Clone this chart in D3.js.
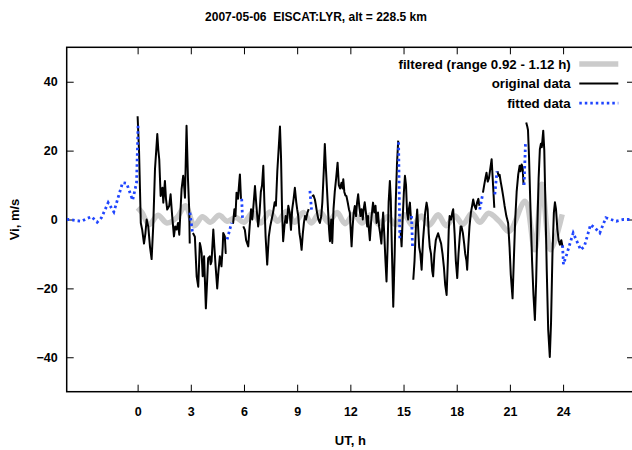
<!DOCTYPE html>
<html>
<head>
<meta charset="utf-8">
<script src="https://cdn.jsdelivr.net/npm/d3@7"></script>
<style>
body {margin:0; background:#fff}
text {font-family:"Liberation Sans", Arial, sans-serif; font-weight:bold; font-size:12px; fill:#000}
</style>
</head>
<body>
<svg id="chart"></svg>
<script>
// hours UT, velocity m/s ; null breaks the line
var original = [
 [0,30],[0.08,20],[0.18,-1],[0.26,-3],[0.36,-7],[0.44,-4],[0.51,0],[0.6,-2],[0.7,-8],[0.79,-11.5],
 [0.88,-2],[0.98,14.6],[1.05,20],[1.11,24.8],[1.17,20],[1.22,17.5],[1.3,6.8],[1.4,9.2],[1.45,4.9],[1.54,11.2],
 [1.6,6],[1.67,2.9],[1.78,3.9],[1.86,7.3],[1.95,1],[2.05,-4.9],[2.12,-2],[2.2,-2.9],[2.28,-1],[2.35,-4.4],
 [2.48,8.8],[2.57,12.7],[2.62,10],[2.67,6.3],[2.76,27.2],[2.84,12],[2.91,2.9],[2.94,-7],[2.95,null],
 [3.12,-3.9],[3.23,-5],[3.33,-16.5],[3.42,-19.5],[3.51,-6.8],[3.56,-8],[3.61,-9.7],[3.67,-16.5],[3.75,-10.7],[3.85,-25.8],
 [3.92,-18],[3.98,-11.2],[4.07,-10.7],[4.12,-13],[4.17,-12.2],[4.27,-2.9],[4.33,-8],[4.4,-13.6],[4.49,-20],[4.56,-15],
 [4.64,-10.7],[4.73,-13.6],[4.8,-8],[4.83,-3.9],[4.92,-4.9],[4.97,-9.7],[5.02,-9.7],[5.05,null],
 [5.34,-1],[5.39,-1],[5.46,3],[5.52,1],[5.58,7.8],[5.66,6],[5.72,10],[5.77,13.1],[5.83,6],[5.85,null],
 [5.96,-2],[6.05,-3],[6.12,-6],[6.24,-7.8],[6.32,-2],[6.4,3],[6.47,0],[6.55,5],[6.62,9.7],[6.7,4],
 [6.8,-2],[6.88,2],[6.95,8],[7.02,10],[7.09,15.6],[7.15,5],[7.22,-5],[7.31,-13.1],[7.4,-5],[7.48,-2],
 [7.56,0],[7.64,2],[7.73,5],[7.8,4],[7.88,14],[7.95,20],[8.03,27],[8.09,18],[8.15,2],[8.21,-6.3],
 [8.28,-2],[8.35,1],[8.42,-1],[8.5,4],[8.58,2],[8.65,-3],[8.72,3],[8.8,6],[8.87,9.2],[8.95,5],
 [9,3],[9.06,1],[9.13,-4],[9.19,-6],[9.25,-8.8],[9.32,-4],[9.38,-1],[9.44,1],[9.5,0],[9.58,2],[9.65,3],[9.7,null],
 [9.84,6.8],[9.92,7],[10,5.8],[10.06,4],[10.12,2],[10.2,0],[10.28,-1],[10.36,1],[10.42,5],[10.5,14],
 [10.56,21.9],[10.62,15],[10.68,9],[10.75,2],[10.8,-3],[10.85,-6.3],[10.92,0],[10.98,-6.8],[11.05,3],[11.12,8],
 [11.2,12],[11.28,16.5],[11.35,10],[11.42,9],[11.5,10.7],[11.56,9],[11.6,11.7],[11.66,8],[11.72,7],[11.78,6.8],
 [11.85,5],[11.92,3],[11.97,2],[12.02,-3],[12.07,-7.8],[12.13,-2],[12.19,2],[12.25,3.9],[12.32,1],[12.38,5],
 [12.44,7.3],[12.5,4],[12.57,1],[12.63,3],[12.7,0],[12.75,3],[12.81,5],[12.88,2],[12.95,-2],[13,1],
 [13.05,-3],[13.1,-6],[13.18,0],[13.24,3],[13.28,4.9],[13.35,2],[13.42,4],[13.48,-1],[13.56,2],[13.62,-2],
 [13.68,-4],[13.75,-7],[13.8,-2],[13.85,2],[13.92,-5],[13.98,-12],[14.04,-18],[14.1,-8],[14.16,5],[14.23,11.2],
 [14.28,6],[14.34,-8],[14.42,-25.3],[14.5,-10],[14.56,5],[14.63,16],[14.7,22.9],[14.72,null],
 [14.83,-3],[14.89,-7.8],[14.95,0],[15.02,8],[15.08,12.7],[15.14,10],[15.2,2],[15.26,0],[15.3,3],[15.36,4.9],[15.42,0],[15.45,null],
 [15.55,-17.5],[15.62,-12],[15.7,-2],[15.77,2.9],[15.82,-2],[15.88,-8],[15.95,-10],[16.02,-14.6],[16.1,-6],[16.16,-2],
 [16.22,2],[16.3,4.9],[16.36,3],[16.42,-4],[16.48,-8],[16.55,-10],[16.62,-15],[16.67,-16.5],[16.74,-10],[16.82,-6],
 [16.88,-5],[16.95,-4],[17.05,-5.8],[17.12,-7],[17.2,-10],[17.28,-14],[17.35,-19],[17.43,-21.9],[17.5,-12],[17.55,-3],
 [17.6,1],[17.68,0],[17.75,2],[17.8,3],[17.88,-4],[17.95,-12],[18.03,-17],[18.1,-10],[18.17,-5],[18.22,-2],
 [18.27,-2],[18.35,-4],[18.42,-7],[18.48,-10],[18.55,-12],[18.59,-14.6],[18.65,-8],[18.72,-2],[18.8,2],[18.87,4],
 [18.93,5.8],[19,4],[19.08,3],[19.15,5],[19.22,6],[19.28,4],[19.3,null],
 [19.48,7.8],[19.55,10],[19.62,12],[19.68,13.6],[19.75,11],[19.82,12],[19.9,15],[19.97,17.5],[20.05,10],[20.12,3.4],[20.15,null],
 [20.3,14],[20.36,12.7],[20.42,13],[20.48,11],[20.55,9],[20.62,6.8],[20.7,4],[20.8,1],[20.9,-1],[20.98,-8],
 [21.05,-16],[21.15,-22.9],[21.22,-12],[21.3,0],[21.38,8],[21.47,13.1],[21.55,15.6],[21.6,14],[21.66,16],[21.72,15],[21.77,10],[21.79,null],
 [21.92,28.2],[21.98,27],[22.02,26],[22.08,18],[22.15,5],[22.25,-12],[22.33,-22],[22.41,-29.2],[22.48,-18],[22.55,-2],
 [22.62,12],[22.69,20.4],[22.75,22],[22.8,21],[22.88,25.8],[22.94,20],[23,5],[23.08,-15],[23.16,-32],[23.25,-39.9],
 [23.32,-30],[23.4,-10],[23.48,2],[23.54,5],[23.6,3],[23.68,-3],[23.75,-6],[23.82,-7.3],[23.9,-6],[23.97,-8]
];

var fitted = [
 [-4,0],[-3.8,0],[-3.5,-0.3],[-3.16,-0.5],[-2.85,0.3],[-2.6,0.8],[-2.28,-0.8],[-2.04,0.5],[-1.66,4.9],[-1.34,2.2],
 [-0.85,10.7],[-0.62,10.5],[-0.28,5.6],[-0.06,10.7],[0.03,28],[0.04,null],
 [2.95,2],[3.1,-4],[3.11,null],
 [5.05,-5.8],[5.3,-1],[5.31,null],
 [5.87,6],[5.92,0],[5.93,null],
 [9.72,8.3],[9.81,2.9],[9.82,null],
 [14.72,22.4],[14.79,-5.8],[14.8,null],
 [15.45,1],[15.51,-8.3],[15.52,null],
 [19.3,2.9],[19.46,7.3],[19.47,null],
 [20.15,7.3],[20.27,14],[20.28,null],
 [21.8,10],[21.88,22.4],[21.89,null],
 [23.97,-7.5],[24.02,-13],[24.2,-10.2],[24.57,-3.9],[24.99,-8.8],[25.2,-7.8],[25.55,-1.5],[25.8,-2.5],[26.07,-3.9],[26.41,0.5],
 [26.7,0],[27,-0.5],[27.4,0],[28,0]
];

var filtered = [
 [0,3.4],[0.25,2],[0.65,-1.5],[1.15,1.2],[1.65,-1],[2.2,0.5],[2.7,4],[3.2,-1.8],[3.65,0.8],[4.1,-0.8],
 [4.6,1.2],[5.05,-0.5],[5.55,0.6],[6,-0.8],[6.5,2],[6.95,-1],[7.45,2.2],[7.9,-0.5],[8.4,2.4],[8.85,-0.8],
 [9.35,2],[9.8,-1],[10.3,2.2],[10.75,-0.8],[11.25,2],[11.7,-1.2],[12.2,1.6],[12.65,-1],[13.15,1.4],[13.6,-1.4],
 [14.1,0.8],[14.55,-1.5],[15.05,1.4],[15.5,-1.8],[16,1],[16.45,-1.6],[16.95,1.4],[17.4,-1.8],[17.9,1],[18.35,-1.4],
 [18.85,1.8],[19.3,-0.8],[19.8,1.8],[20.4,-0.5],[20.95,-3.5],[21.85,5.3],[22.4,-8.8],[22.8,10.2],[23.3,-8.8],[23.95,1.5]
];

var xTicks = [0,3,6,9,12,15,18,21,24];
var yTicks = [-40,-20,0,20,40];
var legendNames = ["filtered (range 0.92 - 1.12 h)", "original data", "fitted data"];

var screen = {width:632, height:450};
var margins = {top:47.3, left:66.7, right:-2, bottom:58.3};
var graph = {
    width: screen.width - margins.left - margins.right,
    height: screen.height - margins.top - margins.bottom
};

var svg = d3.select("#chart")
    .attr("width", screen.width)
    .attr("height", screen.height);

var xScale = d3.scaleLinear().domain([-4,28]).range([0, graph.width]);
var yScale = d3.scaleLinear().domain([-50,50]).range([graph.height, 0]);

svg.append("defs").append("clipPath").attr("id","clip")
    .append("rect").attr("width", graph.width).attr("height", graph.height);

var g = svg.append("g")
    .attr("transform", "translate(" + margins.left + "," + margins.top + ")");

// axes, ticks inward, mirrored
var tickLen = 7;
g.append("g").attr("transform","translate(0," + graph.height + ")")
    .call(d3.axisBottom(xScale).tickValues(xTicks).tickSize(-tickLen).tickPadding(tickLen + 8))
g.append("g")
    .call(d3.axisTop(xScale).tickValues(xTicks).tickSize(-tickLen).tickFormat(""))
g.append("g")
    .call(d3.axisLeft(yScale).tickValues(yTicks).tickSize(-tickLen).tickPadding(tickLen + 2))
g.append("g").attr("transform","translate(" + graph.width + ",0)")
    .call(d3.axisRight(yScale).tickValues(yTicks).tickSize(-tickLen).tickFormat(""))
g.selectAll(".domain").remove();
g.selectAll(".tick line").attr("stroke","#000").attr("stroke-width",1);
g.selectAll(".tick text").style("font-size","12.5px").style("font-family","Liberation Sans, Arial, sans-serif").style("font-weight","bold");

g.append("rect")
    .attr("width", graph.width).attr("height", graph.height)
    .attr("fill","none").attr("stroke","#000").attr("stroke-width",1.5);

var line = d3.line()
    .defined(function(d){ return d[1] !== null })
    .x(function(d){ return xScale(d[0]) })
    .y(function(d){ return yScale(d[1]) });

var plot = g.append("g").attr("clip-path","url(#clip)");

plot.append("path").datum(filtered)
    .attr("d", line.curve(d3.curveCatmullRom))
    .attr("fill","none").attr("stroke","#cbcbcb").attr("stroke-width",5.5);

line.curve(d3.curveLinear);
plot.append("path").datum(original)
    .attr("d", line)
    .attr("fill","none").attr("stroke","#000").attr("stroke-width",2)
    .attr("stroke-linejoin","round");

plot.append("path").datum(fitted)
    .attr("d", line)
    .attr("fill","none").attr("stroke","#1f45ff").attr("stroke-width",2.8)
    .attr("stroke-dasharray","2.5,3");

// legend
var legendStyles = [
    {stroke:"#cbcbcb", width:5.5, dash:null},
    {stroke:"#000", width:2, dash:null},
    {stroke:"#1f45ff", width:2.8, dash:"2.5,3"}
];
var legend = svg.append("g");
legendNames.forEach(function(name, i) {
    var y = 64 + i * 19.6;
    legend.append("text").text(name)
        .attr("x", 570.7).attr("y", y + 4.8)
        .attr("text-anchor","end")
        .style("font-size","13.3px");
    legend.append("line")
        .attr("x1", 579.3).attr("x2", 618.3).attr("y1", y).attr("y2", y)
        .attr("stroke", legendStyles[i].stroke)
        .attr("stroke-width", legendStyles[i].width)
        .attr("stroke-dasharray", legendStyles[i].dash);
});

// labels
svg.append("text").text("2007-05-06  EISCAT:LYR, alt = 228.5 km")
    .attr("x", 316).attr("y", 21).attr("text-anchor","middle").style("white-space","pre")
    .attr("xml:space","preserve");
svg.append("text").text("UT, h")
    .attr("x", margins.left + graph.width/2).attr("y", 445).attr("text-anchor","middle")
    .style("font-size","13px");
svg.append("text").text("Vi, m/s")
    .attr("transform","translate(19," + (margins.top + graph.height/2) + ") rotate(-90)")
    .attr("text-anchor","middle")
    .style("font-size","13px");
</script>
</body>
</html>
